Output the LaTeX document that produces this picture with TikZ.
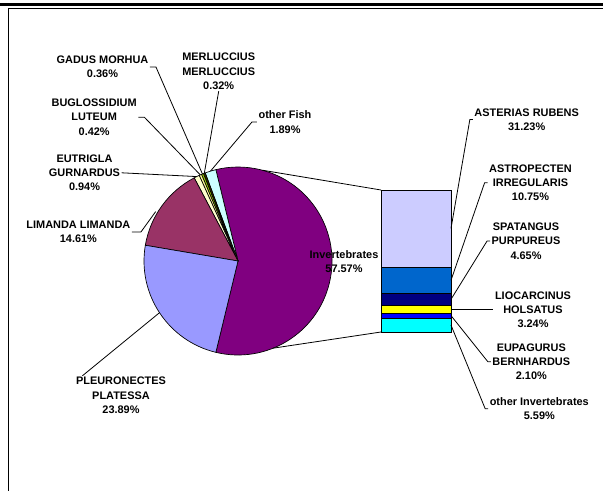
\documentclass[tikz,border=0pt]{standalone}
\usepackage{fontspec}
\setmainfont{Liberation Sans}
\definecolor{cPle}{HTML}{9999FF}
\definecolor{cLim}{HTML}{993366}
\definecolor{cEut}{HTML}{FFFFCC}
\definecolor{cBug}{HTML}{FFFF99}
\definecolor{cGad}{HTML}{99CC00}
\definecolor{cMer}{HTML}{333300}
\definecolor{cOth}{HTML}{CCFFFF}
\definecolor{cInv}{HTML}{800080}
\definecolor{cAst}{HTML}{CCCCFF}
\definecolor{cApt}{HTML}{0066CC}
\definecolor{cSpa}{HTML}{000080}
\definecolor{cLio}{HTML}{FFFF00}
\definecolor{cEup}{HTML}{0000FF}
\definecolor{cOin}{HTML}{00FFFF}
\begin{document}
\begin{tikzpicture}[x=0.75pt,y=-0.75pt,
  lab/.style={font=\fontsize{8.2}{10.7}\selectfont\bfseries, align=center, inner sep=1pt},
  leader/.style={draw=black, line width=0.6pt},
  slice/.style={draw=black, line width=0.5pt, line join=round},
  barseg/.style={draw=black, line width=0.5pt}]
\useasboundingbox (0,0) rectangle (603,491);
% frame
\draw[line width=1.7pt] (0,4.5) -- (603,4.5);
\draw[line width=0.8pt] (8.5,8.5) -- (603,8.5);
\draw[line width=1.2pt] (8.5,8.5) -- (8.5,491);
% pie
\begin{scope}[shift={(238,261)}, y=0.75pt]
  \filldraw[slice, fill=cInv] (0,0) -- (-103.626:94) arc[start angle=-103.626, end angle=103.626, radius=94] -- cycle;
  \filldraw[slice, fill=cOth] (0,0) -- (103.626:94) arc[start angle=103.626, end angle=110.43, radius=94] -- cycle;
  \filldraw[slice, fill=cMer] (0,0) -- (110.43:94) arc[start angle=110.43, end angle=111.582, radius=94] -- cycle;
  \filldraw[slice, fill=cGad] (0,0) -- (111.582:94) arc[start angle=111.582, end angle=112.878, radius=94] -- cycle;
  \filldraw[slice, fill=cBug] (0,0) -- (112.878:94) arc[start angle=112.878, end angle=114.39, radius=94] -- cycle;
  \filldraw[slice, fill=cEut] (0,0) -- (114.39:94) arc[start angle=114.39, end angle=117.774, radius=94] -- cycle;
  \filldraw[slice, fill=cLim] (0,0) -- (117.774:94) arc[start angle=117.774, end angle=170.37, radius=94] -- cycle;
  \filldraw[slice, fill=cPle] (0,0) -- (170.37:94) arc[start angle=170.37, end angle=256.374, radius=94] -- cycle;
  \coordinate (othP) at (107.03:94);
  \coordinate (merP) at (111.0:94);
  \coordinate (gadP) at (112.23:94);
  \coordinate (bugP) at (113.63:94);
  \coordinate (eutP) at (116.08:94);
  \coordinate (limP) at (149:96);
  \coordinate (pleP) at (213.37:94);
  \coordinate (pieTop) at (75:94);
  \coordinate (pieBot) at (-68:94);
\end{scope}
% bar
\filldraw[barseg, fill=cAst] (381,190) rectangle (451,267.05);
\filldraw[barseg, fill=cApt] (381,267.05) rectangle (451,293.57);
\filldraw[barseg, fill=cSpa] (381,293.57) rectangle (451,305.04);
\filldraw[barseg, fill=cLio] (381,305.04) rectangle (451,313.03);
\filldraw[barseg, fill=cEup] (381,313.03) rectangle (451,318.21);
\filldraw[barseg, fill=cOin] (381,318.21) rectangle (451,332);
\coordinate (barTL) at (381,190);
\coordinate (barBL) at (381,332);
\coordinate (barA) at (451,228.5);
\coordinate (barB) at (451,280.3);
\coordinate (barC) at (451,299.3);
\coordinate (barD) at (451,309.0);
\coordinate (barE) at (451,315.6);
\coordinate (barF) at (451,325.1);
\draw[leader] (pieTop) -- (barTL);
\draw[leader] (pieBot) -- (barBL);
% labels
\node[lab] (gad) at (102.5,67) {GADUS MORHUA\\0.36\%};
\node[lab] (mer) at (218.7,71.5) {MERLUCCIUS\\MERLUCCIUS\\0.32\%};
\node[lab] (bug) at (94.2,117.2) {BUGLOSSIDIUM\\LUTEUM\\0.42\%};
\node[lab] (eut) at (84.5,172.8) {EUTRIGLA\\GURNARDUS\\0.94\%};
\node[lab] (lim) at (78.4,232) {LIMANDA LIMANDA\\14.61\%};
\node[lab] (ple) at (121,395.5) {PLEURONECTES\\PLATESSA\\23.89\%};
\node[lab] (oth) at (285,122) {other Fish\\1.89\%};
\node[lab] (inv) at (344,261.5) {Invertebrates\\57.57\%};
\node[lab] (ast) at (526.7,119.5) {ASTERIAS RUBENS\\31.23\%};
\node[lab] (apt) at (530.5,182.8) {ASTROPECTEN\\IRREGULARIS\\10.75\%};
\node[lab] (spa) at (526,241) {SPATANGUS\\PURPUREUS\\4.65\%};
\node[lab] (lio) at (533,309.7) {LIOCARCINUS\\HOLSATUS\\3.24\%};
\node[lab] (eup) at (531.3,361.7) {EUPAGURUS\\BERNHARDUS\\2.10\%};
\node[lab] (oin) at (539.3,408.7) {other Invertebrates\\5.59\%};
% leaders
\draw[leader] (gad.east) -- ++(6,0) -- (gadP);
\draw[leader] (bug.east) -- ++(6,0) -- (bugP);
\draw[leader] (eut.east) -- (eutP);
\draw[leader] (mer.south) -- (merP);
\draw[leader] (oth.west) -- ++(-5,0) -- (othP);
\draw[leader] (lim.east) -- ++(9,0) -- (limP);
\draw[leader] (ple.north west) ++(8,0) -- (pleP);
\draw[leader] (ast.west) -- ++(-3,0) -- (barA);
\draw[leader] (apt.west) -- ++(-3,0) -- (barB);
\draw[leader] (spa.west) -- ++(-3,0) -- (barC);
\draw[leader] (barD) -- (lio.west |- barD);
\draw[leader] (eup.west) -- ++(-3,0) -- (barE);
\draw[leader] (oin.west) -- ++(-3,0) -- (barF);
\end{tikzpicture}
\end{document}
